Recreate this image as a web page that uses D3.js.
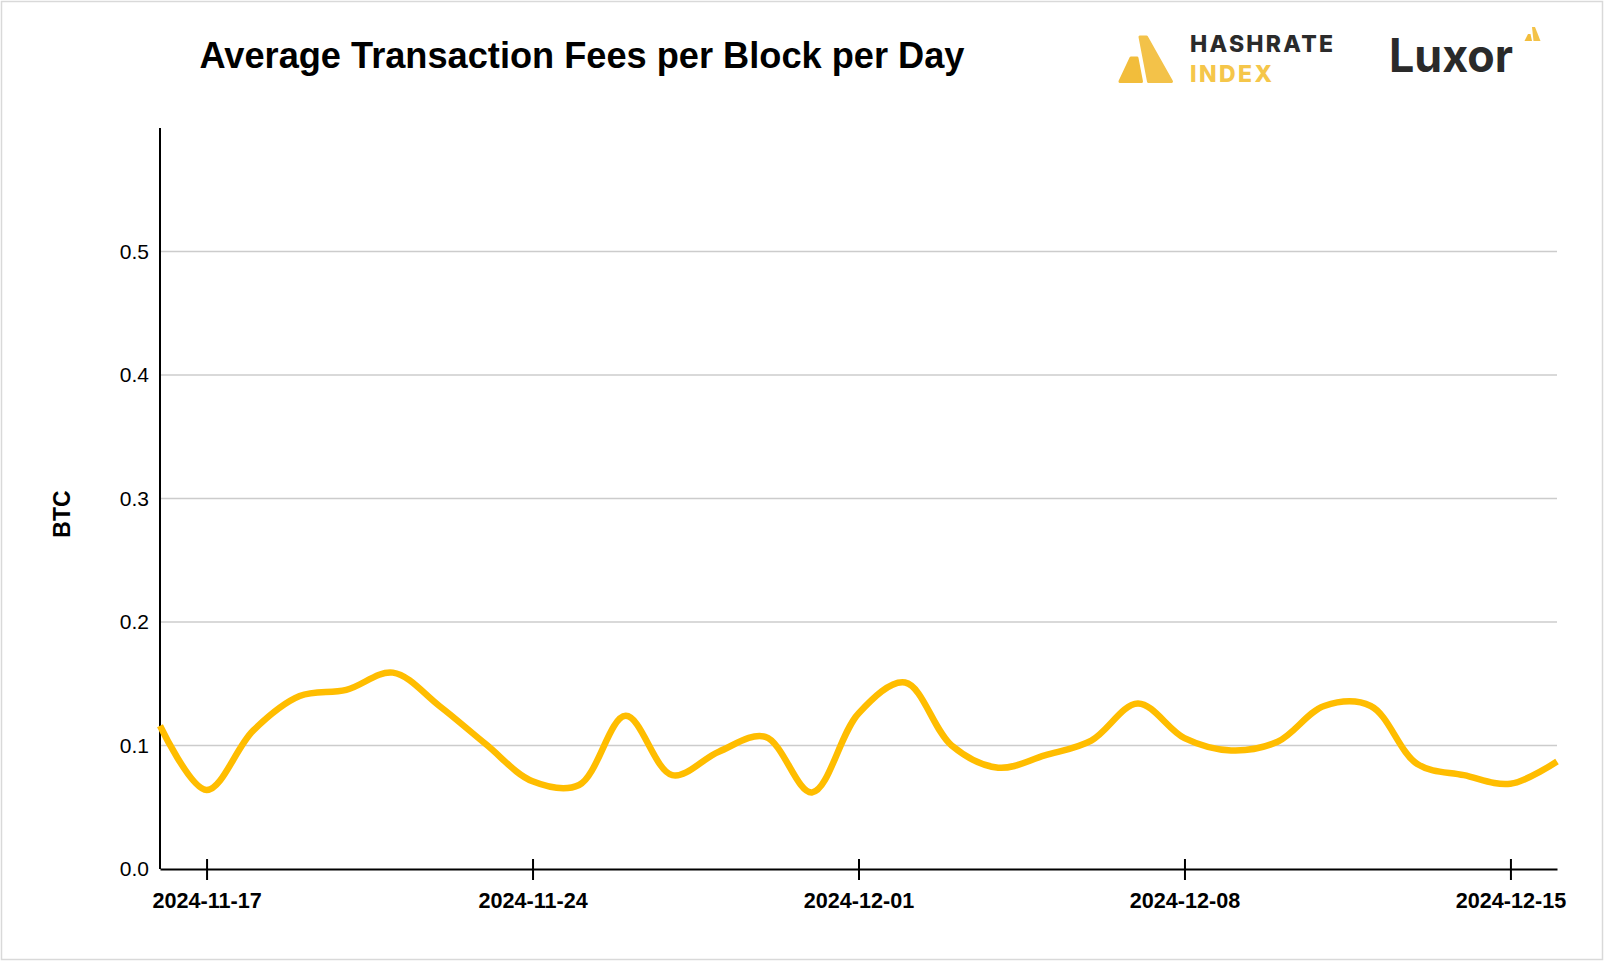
<!DOCTYPE html>
<html>
<head>
<meta charset="utf-8">
<script src="https://cdn.jsdelivr.net/npm/d3@7"></script>
<style>
  html, body { margin: 0; padding: 0; background: #fff; }
  svg { display: block; font-family: "Liberation Sans", Arial, Helvetica, sans-serif; }
</style>
</head>
<body>
<svg id="chart" width="1606" height="964"></svg>
<script>
const dates = [
  "2024-11-16", "2024-11-17", "2024-11-18", "2024-11-19", "2024-11-20", "2024-11-21",
  "2024-11-22", "2024-11-23", "2024-11-24", "2024-11-25", "2024-11-26", "2024-11-27",
  "2024-11-28", "2024-11-29", "2024-11-30", "2024-12-01", "2024-12-02", "2024-12-03",
  "2024-12-04", "2024-12-05", "2024-12-06", "2024-12-07", "2024-12-08", "2024-12-09",
  "2024-12-10", "2024-12-11", "2024-12-12", "2024-12-13", "2024-12-14", "2024-12-15",
  "2024-12-16"
];
const feesBtc = [
  0.116, 0.064, 0.112, 0.140, 0.145, 0.159,
  0.132, 0.101, 0.071, 0.068, 0.124, 0.076,
  0.095, 0.107, 0.062, 0.126, 0.151, 0.100,
  0.082, 0.092, 0.104, 0.134, 0.106, 0.096,
  0.103, 0.132, 0.132, 0.085, 0.076, 0.069,
  0.087
];
const xTickDates = ["2024-11-17", "2024-11-24", "2024-12-01", "2024-12-08", "2024-12-15"];
const yTickValues = [0.0, 0.1, 0.2, 0.3, 0.4, 0.5];

const parse = d3.timeParse("%Y-%m-%d");
const data = dates.map((d, i) => ({ date: parse(d), value: feesBtc[i] }));

const svg = d3.select("#chart");
const plotLeft = 160, plotRight = 1557, plotTop = 128, plotBottom = 869;

// outer frame
svg.append("rect")
  .attr("x", 1.5).attr("y", 1.5)
  .attr("width", 1601).attr("height", 958)
  .attr("fill", "#fff")
  .attr("stroke", "#d9d9d9")
  .attr("stroke-width", 1.5);

const x = d3.scaleTime()
  .domain(d3.extent(data, (d) => d.date))
  .range([plotLeft, plotRight]);

const y = d3.scaleLinear()
  .domain([0, 0.6])
  .range([plotBottom, plotTop]);

// grid
svg.append("g")
  .selectAll("line")
  .data(yTickValues.filter((v) => v > 0))
  .join("line")
  .attr("x1", plotLeft).attr("x2", plotRight)
  .attr("y1", (d) => y(d)).attr("y2", (d) => y(d))
  .attr("stroke", "#cccccc")
  .attr("stroke-width", 1.5);

// y axis
const yAxis = svg.append("g")
  .attr("transform", `translate(${plotLeft},0)`)
  .call(d3.axisLeft(y).tickValues(yTickValues).tickFormat(d3.format(".1f")).tickSize(0).tickPadding(11));
yAxis.select(".domain").remove();
yAxis.selectAll("text")
  .attr("font-size", 21)
  .attr("font-family", "Liberation Sans, Arial, sans-serif")
  .attr("fill", "#000");
svg.append("line")
  .attr("x1", plotLeft).attr("x2", plotLeft)
  .attr("y1", plotTop).attr("y2", plotBottom)
  .attr("stroke", "#000").attr("stroke-width", 2);

// x axis
const xAxis = svg.append("g")
  .attr("transform", `translate(0,${plotBottom})`)
  .call(d3.axisBottom(x)
    .tickValues(xTickDates.map(parse))
    .tickFormat(d3.timeFormat("%Y-%m-%d"))
    .tickSizeOuter(0)
    .tickSizeInner(11)
    .tickPadding(13));
xAxis.select(".domain").attr("stroke", "#000").attr("stroke-width", 2);
xAxis.selectAll(".tick line")
  .attr("y1", -10)
  .attr("stroke", "#000").attr("stroke-width", 2);
xAxis.selectAll(".tick text")
  .attr("font-size", 21.6)
  .attr("font-weight", "bold")
  .attr("font-family", "Liberation Sans, Arial, sans-serif")
  .attr("fill", "#000");

// line
const line = d3.line()
  .x((d) => x(d.date))
  .y((d) => y(d.value))
  .curve(d3.curveCatmullRom);

svg.append("path")
  .datum(data)
  .attr("fill", "none")
  .attr("stroke", "#FFBD00")
  .attr("stroke-width", 6.5)
  .attr("stroke-linejoin", "round")
  .attr("d", line);

// y label
svg.append("text")
  .attr("transform", "translate(70,514) rotate(-90)")
  .attr("text-anchor", "middle")
  .attr("font-size", 23)
  .attr("font-weight", "bold")
  .text("BTC");

// title
svg.append("text")
  .attr("x", 582).attr("y", 68)
  .attr("text-anchor", "middle")
  .attr("font-size", 36.2)
  .attr("font-weight", "bold")
  .text("Average Transaction Fees per Block per Day");

// Hashrate Index logo
const logo = svg.append("g");
logo.append("path")
  .attr("d", "M1131,58 L1137,58 L1141.5,81.5 L1120,81.5 Z")
  .attr("fill", "#F2BD3B")
  .attr("stroke", "#F2BD3B").attr("stroke-width", 3).attr("stroke-linejoin", "round");
logo.append("path")
  .attr("d", "M1140,37 L1146.5,37 L1171.5,81.5 L1148.5,81.5 Z")
  .attr("fill", "#F3C249")
  .attr("stroke", "#F3C249").attr("stroke-width", 3).attr("stroke-linejoin", "round");
logo.append("text")
  .attr("x", 1190).attr("y", 52)
  .attr("font-family", "Inter, Roboto, sans-serif")
  .attr("font-size", 23).attr("font-weight", 800)
  .attr("fill", "#2b2b2b")
  .attr("textLength", 143).attr("lengthAdjust", "spacing")
  .text("HASHRATE");
logo.append("text")
  .attr("x", 1190).attr("y", 82)
  .attr("font-family", "Inter, Roboto, sans-serif")
  .attr("font-size", 23).attr("font-weight", 800)
  .attr("fill", "#F5C64A")
  .attr("textLength", 82).attr("lengthAdjust", "spacing")
  .text("INDEX");

// Luxor logo
svg.append("text")
  .attr("x", 1389).attr("y", 72)
  .attr("font-family", "Inter, Roboto, sans-serif")
  .attr("font-size", 46).attr("font-weight", 700)
  .attr("fill", "#2a2a2a")
  .attr("textLength", 124).attr("lengthAdjust", "spacingAndGlyphs")
  .text("Luxor");
svg.append("path")
  .attr("d", "M1528,34 L1530.5,34 L1532,41 L1524.5,41 Z")
  .attr("fill", "#F2BD3B");
svg.append("path")
  .attr("d", "M1532,27 L1535,27 L1540.5,41 L1533.5,41 Z")
  .attr("fill", "#F3C249");
</script>
</body>
</html>
